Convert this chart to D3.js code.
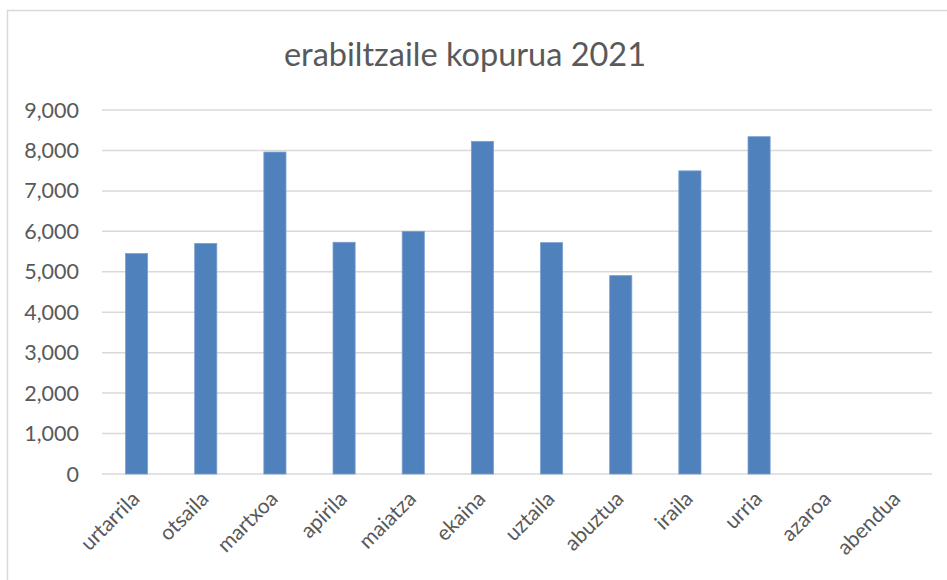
<!DOCTYPE html>
<html>
<head>
<meta charset="utf-8">
<script src="https://cdn.jsdelivr.net/npm/d3@7"></script>
<style>
  body { margin: 0; background: #fff; }
  text { font-family: Lato, "Open Sans", sans-serif; fill: #595959; }
</style>
</head>
<body>
<script>
var months = ["urtarrila", "otsaila", "martxoa", "apirila", "maiatza", "ekaina",
              "uztaila", "abuztua", "iraila", "urria", "azaroa", "abendua"];
var users = [5450, 5700, 7960, 5730, 6000, 8225, 5720, 4905, 7495, 8340, null, null];
var yTicks = [0, 1000, 2000, 3000, 4000, 5000, 6000, 7000, 8000, 9000];
var title = "erabiltzaile kopurua 2021";

var width = 947,
    height = 580;

var margin = {left: 102, right: 15, top: 110, bottom: 106};

var svg = d3.select("body").append("svg")
    .attr("width", width)
    .attr("height", height);

// chart border (runs off the right and bottom edges)
svg.append("rect")
    .attr("x", 7.5)
    .attr("y", 10.5)
    .attr("width", 960)
    .attr("height", 600)
    .attr("fill", "white")
    .attr("stroke", "#d9d9d9")
    .attr("stroke-width", 1.5);

var x = d3.scaleBand()
    .domain(months)
    .range([margin.left, width - margin.right])
    .paddingInner(0.68)
    .paddingOuter(0.34);

var y = d3.scaleLinear()
    .domain([0, 9000])
    .range([height - margin.bottom, margin.top]);

// gridlines
svg.append("g")
    .selectAll("line")
    .data(yTicks)
    .enter().append("line")
    .attr("x1", margin.left)
    .attr("x2", width - margin.right)
    .attr("y1", function(d) { return y(d); })
    .attr("y2", function(d) { return y(d); })
    .attr("stroke", "#d9d9d9")
    .attr("stroke-width", 1.5);

// y labels
svg.append("g")
    .selectAll("text")
    .data(yTicks)
    .enter().append("text")
    .attr("x", 79)
    .attr("y", function(d) { return y(d); })
    .attr("dy", "0.35em")
    .attr("text-anchor", "end")
    .attr("font-size", "21.5px")
    .text(d3.format(","));

// bars
svg.append("g")
    .selectAll("rect")
    .data(months.map(function(m, i) { return {m: m, v: users[i]}; })
          .filter(function(d) { return d.v != null; }))
    .enter().append("rect")
    .attr("x", function(d) { return x(d.m); })
    .attr("width", x.bandwidth())
    .attr("y", function(d) { return y(d.v); })
    .attr("height", function(d) { return y(0) - y(d.v); })
    .attr("fill", "#4f81bd")
    .attr("stroke", "#7b9fd0")
    .attr("stroke-width", 0.8);

// x labels, rotated
svg.append("g")
    .selectAll("text")
    .data(months)
    .enter().append("text")
    .attr("transform", function(d) {
        var cx = x(d) + x.bandwidth() / 2 - 1;
        return "translate(" + cx + "," + (y(0) + 21) + ") rotate(-45)";
    })
    .attr("text-anchor", "end")
    .attr("dy", "0.35em")
    .attr("font-size", "21px")
    .text(function(d) { return d; });

// title
svg.append("text")
    .attr("x", 465)
    .attr("y", 66)
    .attr("text-anchor", "middle")
    .attr("font-size", "32.5px")
    .text(title);
</script>
</body>
</html>
